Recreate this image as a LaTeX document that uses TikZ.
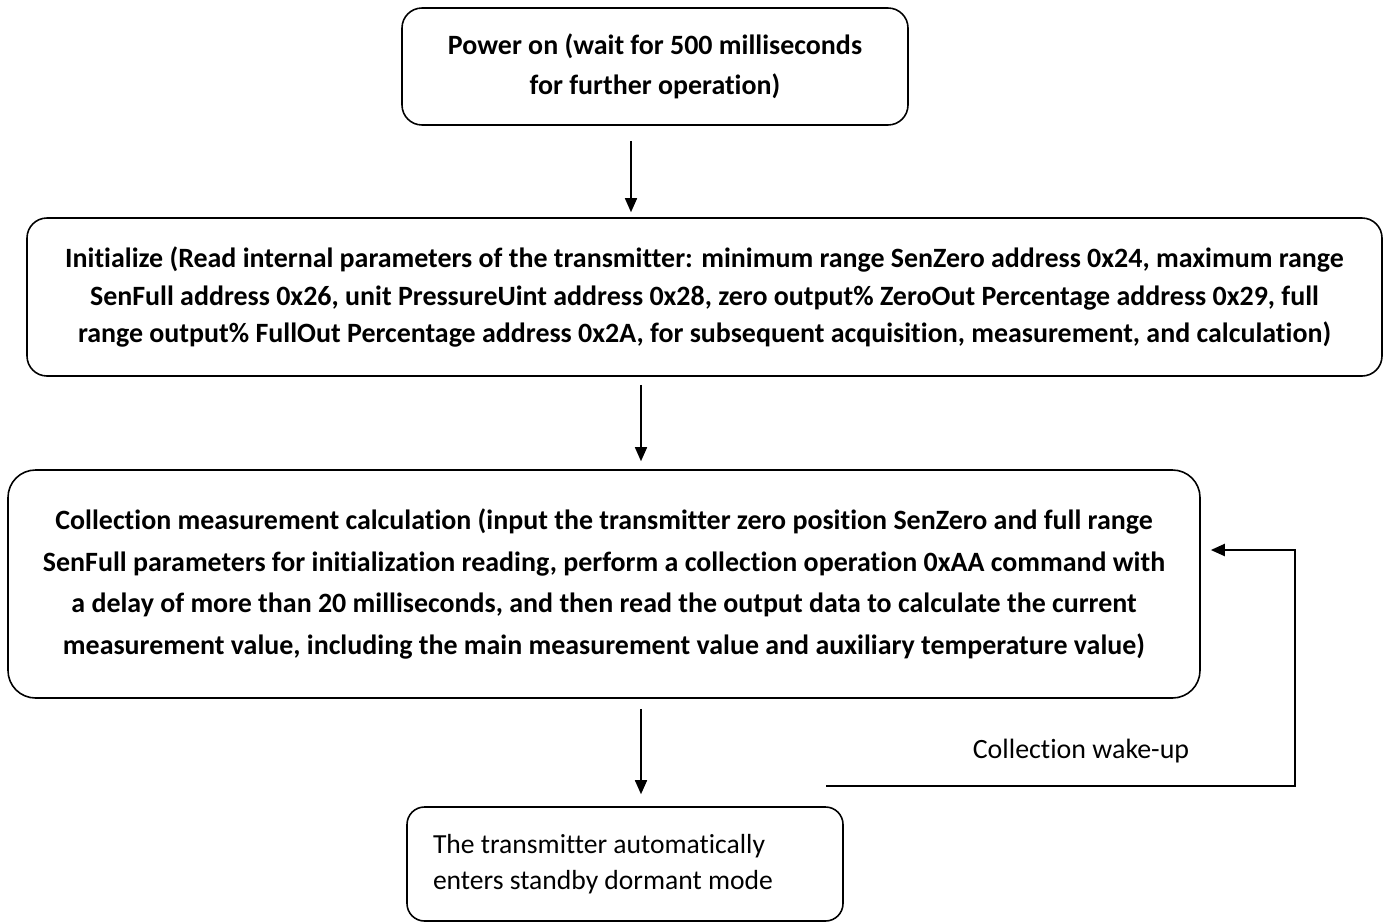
\documentclass[tikz,border=0pt]{standalone}
\usepackage{fontspec}
\setmainfont[Ligatures=NoCommon]{Carlito}
\usetikzlibrary{arrows.meta}
\definecolor{linegray}{HTML}{000000}

\tikzset{
  stepbox/.style={draw=linegray, line width=0.9pt, rounded corners=0.4cm, align=center,
    inner sep=0pt, font=\bfseries\fontsize{15.9}{22}\selectfont},
  flow/.style={draw=linegray, line width=0.9pt, -{Triangle[length=0.28cm, width=0.24cm]}}
}

\begin{document}
\begin{tikzpicture}
  \useasboundingbox (0,0) rectangle (27.68,-18.44);
  \node[stepbox, font=\bfseries\fontsize{15.9}{22.7}\selectfont, minimum width=10.12cm, minimum height=2.34cm] (power) at (13.10,-1.33)
    {Power on (wait for 500 milliseconds\\for further operation)};
  \node[stepbox, font=\bfseries\fontsize{15.9}{21.3}\selectfont, minimum width=27.10cm, minimum height=3.16cm] (init) at (14.09,-5.94)
    {Initialize (Read internal parameters of the transmitter: minimum range SenZero address 0x24, maximum range\\
     SenFull address 0x26, unit PressureUint address 0x28, zero output\% ZeroOut Percentage address 0x29, full\\
     range output\% FullOut Percentage address 0x2A, for subsequent acquisition, measurement, and calculation)};
  \node[stepbox, font=\bfseries\fontsize{15.9}{23.8}\selectfont, rounded corners=0.55cm, minimum width=23.84cm, minimum height=4.56cm] (collect) at (12.08,-11.68)
    {Collection measurement calculation (input the transmitter zero position SenZero and full range\\
     SenFull parameters for initialization reading, perform a collection operation 0xAA command with\\
     a delay of more than 20 milliseconds, and then read the output data to calculate the current\\
     measurement value, including the main measurement value and auxiliary temperature value)};
  \node[stepbox, font=\fontsize{15.7}{20.8}\selectfont, rounded corners=0.35cm, align=left,
    minimum width=8.72cm, minimum height=2.28cm, text width=7.68cm] (standby) at (12.50,-17.28)
    {\spaceskip=0pt The transmitter automatically\\enters standby dormant mode};
  \node[font=\fontsize{15.9}{22}\selectfont] (wakelabel) at (21.62,-15.02) {Collection wake-up};

  % arrows between the steps
  \draw[flow, shorten <=0.3cm, shorten >=0.1cm] ([xshift=-0.48cm]power.south) -- ([xshift=-0.48cm]power.south |- init.north);
  \draw[flow, shorten <=0.16cm, shorten >=0.16cm] ([xshift=-1.27cm]init.south) -- ([xshift=-1.27cm]init.south |- collect.north);
  \draw[flow, shorten <=0.2cm, shorten >=0.24cm] ([xshift=0.74cm]collect.south) -- ([xshift=0.74cm]collect.south |- standby.north);

  % wake-up loop
  \coordinate (wake) at (16.52,-15.72);
  \coordinate (loop) at (25.90,-15.72);
  \draw[flow, line width=1.2pt, shorten >=0.2cm] (wake) -- (loop) |- ([yshift=0.68cm]collect.east);
\end{tikzpicture}
\end{document}
